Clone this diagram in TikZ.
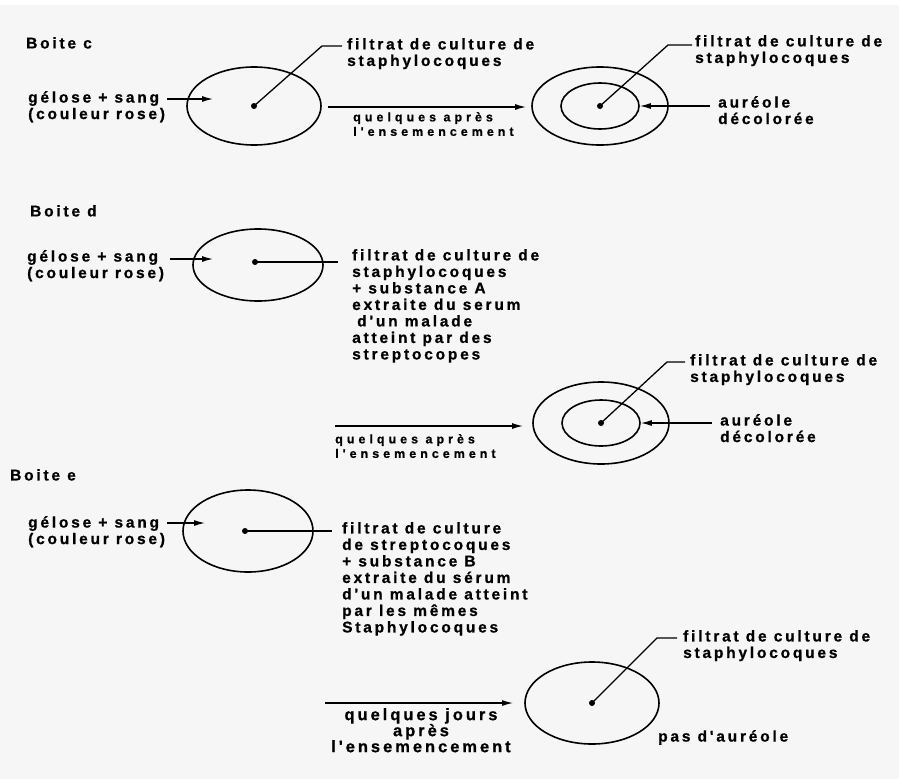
\documentclass[tikz,border=0pt]{standalone}
\usepackage{fontspec}
\setmainfont{Liberation Sans}
\newfontfamily\labfont{Liberation Sans}[LetterSpace=18, FakeBold=0.8]
\newfontfamily\sparsefont{Liberation Sans}[LetterSpace=32, FakeBold=0.8]
\usetikzlibrary{arrows.meta, positioning, shapes.geometric}
\definecolor{bgcol}{RGB}{246,246,246}

\begin{document}
\begin{tikzpicture}[
		x=1pt, y=-1pt,
		dish/.style={draw, ellipse, line width=1.6pt, inner sep=0},
		dot/.style={circle, fill, inner sep=0, minimum size=6pt},
		lbl/.style={anchor=north west, inner sep=0, align=left, font=\labfont\bfseries\fontsize{15.5}{16.5}\selectfont},
		note/.style={anchor=north west, inner sep=0, align=left, font=\sparsefont\bfseries\fontsize{12.5}{14.5}\selectfont},
		lead/.style={line width=1.3pt},
		arrow/.style={-{Latex[length=11pt, width=6pt]}, line width=1.3pt}
	]
	\useasboundingbox (0,0) rectangle (899,779);
	\fill[bgcol] (0,5) rectangle (899,779);

	% Boite c
	\node[lbl] (tc) at (26,37) {Boite c};
	\node[lbl] (gc) at (28,91) {gélose + sang\\(couleur rose)};
	\coordinate (gc1) at (167,99);
	\coordinate (gc2) at (213,99);
	\draw[arrow] (gc1) -- (gc2);
	\node[dish, minimum width=134pt, minimum height=78pt] (dc) at (254,106) {};
	\node[dot] (pc) at (254,106) {};
	\coordinate (kc) at (322,46);
	\coordinate (ec) at (342,46);
	\draw[lead] (pc.center) -- (kc) -- (ec);
	\node[lbl] (fc) at (347,38) {filtrat de culture de\\staphylocoques};
	\coordinate (ac1) at (328,107);
	\coordinate (ac2) at (526,107);
	\draw[arrow] (ac1) -- (ac2);
	\node[note, below right=5pt and 25pt of ac1] (nc) {quelques après\\l'ensemencement};
	\node[dish, minimum width=136pt, minimum height=78pt] (dc2) at (600,106) {};
	\node[dish, minimum width=78pt, minimum height=46pt] (ic2) at (600,106) {};
	\node[dot] (pc2) at (600,106) {};
	\coordinate (kc2) at (668,45);
	\coordinate (ec2) at (692,45);
	\draw[lead] (pc2.center) -- (kc2) -- (ec2);
	\node[lbl] (fc2) at (695,35) {filtrat de culture de\\staphylocoques};
	\coordinate (uc) at (710,106);
	\draw[arrow] (uc) -- (ic2.east);
	\node[lbl] (auc) at (718,96) {auréole\\décolorée};

	% Boite d
	\node[lbl] (td) at (30,205) {Boite d};
	\node[lbl] (gd) at (27,250) {gélose + sang\\(couleur rose)};
	\coordinate (gd1) at (170,259);
	\coordinate (gd2) at (213,259);
	\draw[arrow] (gd1) -- (gd2);
	\node[dish, minimum width=130pt, minimum height=72pt] (dd) at (258,265) {};
	\node[dot] (pd) at (255,262) {};
	\coordinate (ed) at (338,262);
	\draw[lead] (pd.center) -- (ed);
	\node[lbl] (fd) at (352,249) {filtrat de culture de\\staphylocoques\\+ substance A\\extraite du serum\\\hspace*{5pt}d'un malade\\atteint par des\\streptocopes};
	\coordinate (ad1) at (335,426);
	\coordinate (ad2) at (523,426);
	\draw[arrow] (ad1) -- (ad2);
	\node[note, below right=8pt and 0pt of ad1] (nd) {quelques après\\l'ensemencement};
	\node[dish, minimum width=136pt, minimum height=82pt] (dd2) at (601,423) {};
	\node[dish, minimum width=78pt, minimum height=46pt] (id2) at (601,423) {};
	\node[dot] (pd2) at (601,423) {};
	\coordinate (kd2) at (667,362);
	\coordinate (ed2) at (685,362);
	\draw[lead] (pd2.center) -- (kd2) -- (ed2);
	\node[lbl] (fd2) at (690,354) {filtrat de culture de\\staphylocoques};
	\coordinate (ud) at (712,423);
	\draw[arrow] (ud) -- (id2.east);
	\node[lbl] (aud) at (720,414) {auréole\\décolorée};

	% Boite e
	\node[lbl] (te) at (10,469) {Boite e};
	\node[lbl] (ge) at (28,516) {gélose + sang\\(couleur rose)};
	\coordinate (ge1) at (167,523);
	\coordinate (ge2) at (205,523);
	\draw[arrow] (ge1) -- (ge2);
	\node[dish, minimum width=130pt, minimum height=82pt] (de) at (248,531) {};
	\node[dot] (pe) at (245,531) {};
	\coordinate (ee) at (332,531);
	\draw[lead] (pe.center) -- (ee);
	\node[lbl] (fe) at (342,522) {filtrat de culture\\de streptocoques\\+ substance B\\extraite du sérum\\d'un malade atteint\\par les mêmes\\Staphylocoques};
	\coordinate (ae1) at (325,703);
	\coordinate (ae2) at (513,703);
	\draw[arrow] (ae1) -- (ae2);
	\node[lbl, anchor=north, align=center, font=\labfont\bfseries\fontsize{16.5}{16}\selectfont] (ne) at (421,708) {quelques jours\\après\\l'ensemencement};
	\node[dish, minimum width=134pt, minimum height=82pt] (de2) at (592,703) {};
	\node[dot] (pe2) at (592,703) {};
	\coordinate (ke2) at (657,638);
	\coordinate (ee2) at (677,638);
	\draw[lead] (pe2.center) -- (ke2) -- (ee2);
	\node[lbl] (fe2) at (683,630) {filtrat de culture de\\staphylocoques};
	\node[lbl] (pa) at (658,730) {pas d'auréole};
\end{tikzpicture}
\end{document}
